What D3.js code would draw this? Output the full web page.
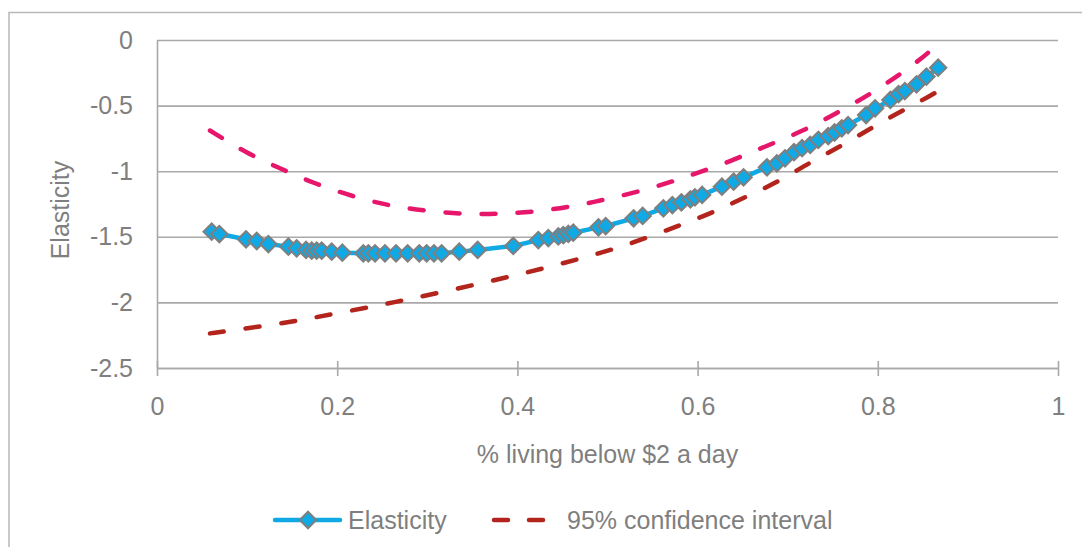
<!DOCTYPE html>
<html>
<head>
<meta charset="utf-8">
<script src="https://cdn.jsdelivr.net/npm/d3@7"></script>
<style>
  html, body { margin: 0; padding: 0; background: #fff; }
  svg { display: block; }
  text { font-family: "Liberation Sans", Arial, sans-serif; fill: #7f7f7f; }
</style>
</head>
<body>
<svg id="chart" width="1082" height="547"></svg>
<script>
// ---------- data ----------
const elasticityX = [0.0607,0.0692,0.0988,0.1107,0.1236,0.1458,0.155,0.1654,0.1717,0.1772,0.1828,0.1939,0.2057,0.229,0.2346,0.242,0.253,0.2653,0.2782,0.2911,0.2993,0.3074,0.3159,0.3355,0.3559,0.3954,0.4232,0.4343,0.4454,0.4509,0.4565,0.462,0.490,0.498,0.529,0.539,0.562,0.572,0.582,0.592,0.597,0.605,0.627,0.640,0.651,0.677,0.688,0.697,0.707,0.716,0.725,0.734,0.745,0.752,0.760,0.767,0.787,0.797,0.814,0.823,0.830,0.843,0.854,0.867];
const elasticityY = [-1.461,-1.479,-1.519,-1.532,-1.555,-1.575,-1.588,-1.600,-1.606,-1.606,-1.606,-1.613,-1.621,-1.626,-1.626,-1.626,-1.626,-1.626,-1.626,-1.626,-1.626,-1.626,-1.626,-1.613,-1.600,-1.570,-1.525,-1.510,-1.497,-1.488,-1.478,-1.469,-1.428,-1.418,-1.359,-1.341,-1.283,-1.258,-1.237,-1.214,-1.199,-1.181,-1.118,-1.080,-1.047,-0.970,-0.940,-0.902,-0.855,-0.825,-0.800,-0.762,-0.732,-0.705,-0.673,-0.648,-0.572,-0.521,-0.457,-0.412,-0.389,-0.338,-0.279,-0.211];

const upperX = [0.0588,0.0995,0.1365,0.1735,0.218,0.2586,0.299,0.3437,0.3862,0.4288,0.4713,0.512,0.555,0.595,0.636,0.677,0.7155,0.7525,0.7914,0.8265,0.860,0.869];
const upperY = [-0.690,-0.864,-0.978,-1.092,-1.194,-1.265,-1.303,-1.329,-1.326,-1.303,-1.255,-1.194,-1.118,-1.024,-0.927,-0.805,-0.699,-0.564,-0.414,-0.254,-0.081,0.000];

const lowerX = [0.0588,0.092,0.133,0.170,0.2087,0.2475,0.2845,0.3233,0.3622,0.3992,0.436,0.473,0.510,0.547,0.584,0.619,0.654,0.690,0.723,0.758,0.791,0.825,0.860,0.869];
const lowerY = [-2.236,-2.205,-2.165,-2.122,-2.071,-2.020,-1.969,-1.911,-1.850,-1.791,-1.728,-1.660,-1.588,-1.499,-1.402,-1.309,-1.194,-1.080,-0.940,-0.813,-0.678,-0.546,-0.419,-0.381];

const xTicks = [0, 0.2, 0.4, 0.6, 0.8, 1];
const yTicks = [0, -0.5, -1, -1.5, -2, -2.5];
const xTitle = "% living below $2 a day";
const yTitle = "Elasticity";
const seriesNames = ["Elasticity", "95% confidence interval"];

// ---------- layout ----------
const svg = d3.select("#chart");
const FONT = 25;
const C_BLUE = "#0fa9e6", C_UP = "#e6176b", C_LO = "#b3241c", C_GRID = "#a9a9a9";

const x = d3.scaleLinear().domain([0, 1]).range([157, 1058]);
const y = d3.scaleLinear().domain([-2.5, 0]).range([368, 40]);

// outer frame
svg.append("path").attr("d", "M9,547 V12.5 H1082")
  .attr("fill", "none").attr("stroke", "#b8b8b8").attr("stroke-width", 1.5);

// gridlines
const grid = svg.append("g").attr("transform", `translate(${x(0)},0)`)
  .call(d3.axisLeft(y).tickValues(yTicks).tickSize(-(x(1) - x(0))).tickFormat(""));
grid.select(".domain").remove();
grid.selectAll(".tick line").attr("stroke", C_GRID).attr("stroke-width", 1.6);

// y axis
const yAxis = svg.append("g").attr("transform", `translate(${x(0)},0)`)
  .call(d3.axisLeft(y).tickValues(yTicks).tickSize(0).tickPadding(24).tickFormat(d => String(d)));
yAxis.select(".domain").attr("stroke", C_GRID).attr("stroke-width", 1.6);
yAxis.selectAll("text").attr("font-size", FONT).attr("font-family", null).style("fill", "#7f7f7f");

// x axis
const xAxis = svg.append("g").attr("transform", `translate(0,${y(-2.5)})`)
  .call(d3.axisBottom(x).tickValues(xTicks).tickSize(0).tickPadding(29).tickFormat(d => String(d)));
xAxis.select(".domain").attr("stroke", C_GRID).attr("stroke-width", 1.6);
xAxis.selectAll(".tick line").attr("y1", -7).attr("y2", 8).attr("stroke", C_GRID).attr("stroke-width", 1.6);
xAxis.selectAll("text").attr("font-size", FONT).attr("font-family", null).style("fill", "#7f7f7f");

// titles
svg.append("text").attr("x", (x(0) + x(1)) / 2).attr("y", 463)
  .attr("text-anchor", "middle").attr("font-size", FONT).text(xTitle);
svg.append("text").attr("transform", "translate(69,210) rotate(-90)")
  .attr("text-anchor", "middle").attr("font-size", FONT).text(yTitle);

// CI lines
const ciLine = d3.line().x(d => x(d[0])).y(d => y(d[1])).curve(d3.curveBasis);
const upper = upperX.map((v, i) => [v, upperY[i]]);
const lower = lowerX.map((v, i) => [v, lowerY[i]]);
svg.append("path").datum(upper).attr("d", ciLine)
  .attr("fill", "none").attr("stroke", C_UP).attr("stroke-width", 4.5)
  .attr("stroke-linecap", "round").attr("stroke-dasharray", "14,22");
svg.append("path").datum(lower).attr("d", ciLine)
  .attr("fill", "none").attr("stroke", C_LO).attr("stroke-width", 4.5)
  .attr("stroke-linecap", "round").attr("stroke-dasharray", "14,22");

// elasticity line + markers
const el = elasticityX.map((v, i) => [v, elasticityY[i]]);
const elLine = d3.line().x(d => x(d[0])).y(d => y(d[1]));
svg.append("path").datum(el).attr("d", elLine)
  .attr("fill", "none").attr("stroke", C_BLUE).attr("stroke-width", 4.5)
  .attr("stroke-linejoin", "round");
const diamond = d3.symbol().type(d3.symbolSquare).size(135);
svg.append("g").selectAll("path").data(el).join("path")
  .attr("d", diamond)
  .attr("transform", d => `translate(${x(d[0])},${y(d[1])}) rotate(45)`)
  .attr("fill", C_BLUE).attr("stroke", "#7f7f7f").attr("stroke-width", 2);

// legend
const lg = svg.append("g");
lg.append("line").attr("x1", 275).attr("x2", 340).attr("y1", 520).attr("y2", 520)
  .attr("stroke", C_BLUE).attr("stroke-width", 4.5).attr("stroke-linecap", "round");
lg.append("path").attr("d", diamond).attr("transform", "translate(308,520) rotate(45)")
  .attr("fill", C_BLUE).attr("stroke", "#7f7f7f").attr("stroke-width", 2);
lg.append("text").attr("x", 348).attr("y", 529).attr("font-size", FONT).text(seriesNames[0]);
lg.append("line").attr("x1", 494).attr("x2", 544).attr("y1", 520).attr("y2", 520)
  .attr("stroke", C_LO).attr("stroke-width", 4.5).attr("stroke-linecap", "round")
  .attr("stroke-dasharray", "14,21");
lg.append("text").attr("x", 567).attr("y", 529).attr("font-size", FONT).text(seriesNames[1]);
</script>
</body>
</html>
